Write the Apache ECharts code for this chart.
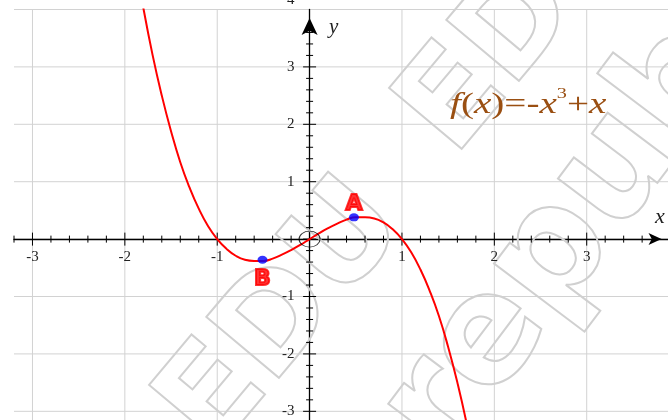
<!DOCTYPE html>
<html>
<head>
<meta charset="utf-8">
<script src="https://cdn.jsdelivr.net/npm/echarts@6/dist/echarts.min.js"></script>
<style>
html, body { margin: 0; padding: 0; background: #fff; }
#main { width: 668px; height: 420px; }
</style>
</head>
<body>
<div id="main"></div>
<script>
// curve points
var curveX = [-1.9, -1.8, -1.7, -1.6, -1.5, -1.4, -1.3, -1.2, -1.1, -1.0,
  -0.9, -0.8, -0.7, -0.6, -0.5, -0.4, -0.3, -0.2, -0.1, 0,
  0.1, 0.2, 0.3, 0.4, 0.5, 0.6, 0.7, 0.8, 0.9, 1.0,
  1.1, 1.2, 1.3, 1.4, 1.5, 1.6, 1.7, 1.8];
var curveY = [4.96, 4.03, 3.21, 2.50, 1.88, 1.34, 0.90, 0.53, 0.23, 0,
  -0.17, -0.29, -0.36, -0.38, -0.38, -0.34, -0.27, -0.19, -0.10, 0,
  0.10, 0.19, 0.27, 0.34, 0.38, 0.38, 0.36, 0.29, 0.17, 0,
  -0.23, -0.53, -0.90, -1.34, -1.88, -2.50, -3.21, -4.03];

// marked points
var pointNames = ['A', 'B'];
var pointX = [0.48, -0.51];
var pointY = [0.38, -0.36];

// tick labels
var xLabelVals = [-3, -2, -1, 1, 2, 3];
var xLabelText = ['-3', '-2', '-1', '1', '2', '3'];
var yLabelVals = [-3, -2, -1, 1, 2, 3, 4];
var yLabelText = ['-3', '-2', '-1', '1', '2', '3', '4'];

// board
var gridX = [-3, -2, -1, 0, 1, 2, 3];
var gridY = [-3, -2, -1, 0, 1, 2, 3, 4];
var xRange = [-3.2, 3.88];
var yRange = [-3.2, 4];
var tickStep = 0.2;
var tickLast = 3.6;

var serif = '"Liberation Serif", "DejaVu Serif", serif';
var brown = '#9a4f12';

function isInt(v) {
  return Math.abs(v - Math.round(v)) < 1e-6;
}

var curveData = curveX.map(function (x, i) { return [x, curveY[i]]; });

var pointData = pointNames.map(function (n, i) {
  return {
    name: n,
    value: [pointX[i], pointY[i]],
    label: { position: i === 0 ? 'top' : 'bottom', distance: i === 0 ? -2 : 5 }
  };
});

var gridData = [];
gridX.forEach(function (v) { gridData.push([v, 0]); });
gridY.forEach(function (v) { gridData.push([v, 1]); });

var tickData = [];
for (var k = 0; ; k++) {
  var v = Math.round((xRange[0] + k * tickStep) * 10) / 10;
  if (v > tickLast) break;
  tickData.push([v, 0, isInt(v) ? 1 : 0]);
  tickData.push([v, 1, isInt(v) ? 1 : 0]);
}

var labelData = [], labelText = [];
xLabelVals.forEach(function (v, i) { labelData.push([v, 0]); labelText.push(xLabelText[i]); });
yLabelVals.forEach(function (v, i) { labelData.push([v, 1]); labelText.push(yLabelText[i]); });

function renderGrid(params, api) {
  var v = api.value(0);
  var a, b;
  if (api.value(1) === 0) {
    a = api.coord([v, yRange[0]]);
    b = api.coord([v, yRange[1]]);
  } else {
    a = api.coord([xRange[0], v]);
    b = api.coord([xRange[1], v]);
  }
  return {
    type: 'line',
    shape: { x1: a[0], y1: a[1], x2: b[0], y2: b[1] },
    style: { stroke: '#d2d2d2', lineWidth: 1 }
  };
}

function renderTick(params, api) {
  var v = api.value(0);
  var len = api.value(2) ? 6.5 : 3.5;
  var shape;
  if (api.value(1) === 0) {
    var p = api.coord([v, 0]);
    shape = { x1: p[0], y1: p[1] - len, x2: p[0], y2: p[1] + len };
  } else {
    var q = api.coord([0, v]);
    shape = { x1: q[0] - len, y1: q[1], x2: q[0] + len, y2: q[1] };
  }
  return { type: 'line', shape: shape, style: { stroke: '#000', lineWidth: 1 } };
}

function renderLabel(params, api) {
  var v = api.value(0);
  var txt = labelText[params.dataIndex];
  if (api.value(1) === 0) {
    var p = api.coord([v, 0]);
    return {
      type: 'text', x: p[0], y: p[1] + 18,
      style: { text: txt, font: '15px ' + serif, fill: '#222', align: 'center', verticalAlign: 'middle' }
    };
  }
  var q = api.coord([0, v]);
  return {
    type: 'text', x: q[0] - 15, y: q[1] + (v === 4 ? -9 : 0),
    style: { text: txt, font: '15px ' + serif, fill: '#222', align: 'right', verticalAlign: 'middle' }
  };
}

function watermark(text, x, y, size, rot) {
  return {
    type: 'text',
    x: x,
    y: y,
    rotation: rot * Math.PI / 180,
    z: 1,
    silent: true,
    style: {
      text: text,
      font: 'bold ' + size + 'px "DejaVu Sans", sans-serif',
      fill: 'rgba(0,0,0,0)',
      stroke: '#d0d0d0',
      lineWidth: 2,
      align: 'left',
      verticalAlign: 'bottom'
    }
  };
}

var chart = echarts.init(document.getElementById('main'));

var option = {
  animation: false,
  backgroundColor: '#fff',
  grid: { left: 14, right: 0, top: 9.5, bottom: -2.8, outerBoundsMode: 'none', containLabel: false },
  xAxis: {
    type: 'value',
    min: xRange[0],
    max: xRange[1],
    interval: tickStep,
    axisLine: {
      onZero: true,
      symbol: ['none', 'arrow'],
      symbolSize: [9, 13],
      symbolOffset: [0, -6.5],
      lineStyle: { color: '#000', width: 1.3 }
    },
    axisTick: { show: false },
    splitLine: { show: false },
    axisLabel: { show: false }
  },
  yAxis: {
    type: 'value',
    min: yRange[0],
    max: yRange[1],
    interval: tickStep,
    axisLine: {
      onZero: true,
      symbol: ['none', 'arrow'],
      symbolSize: [12, 17],
      symbolOffset: [0, -8.5],
      lineStyle: { color: '#000', width: 1.3 }
    },
    axisTick: { show: false },
    splitLine: { show: false },
    axisLabel: { show: false }
  },
  graphic: [
    watermark('EDU', 238, 475, 130, 50),
    watermark('EDU', 478, 178, 130, 50),
    watermark('republic', 475, 485, 150, 53),
    {
      type: 'text', left: 655, top: 206, z: 10,
      style: { text: 'x', font: 'italic 22px ' + serif, fill: '#222' }
    },
    {
      type: 'text', left: 329, top: 17, z: 10,
      style: { text: 'y', font: 'italic 21px ' + serif, fill: '#222' }
    },
    {
      type: 'text', x: 450, y: 87, scaleX: 1.35, z: 10,
      style: {
        text: '{i|f}{n|(}{i|x}{n|)=-}{i|x}{s|3}{n|+}{i|x}',
        rich: {
          i: { fontFamily: serif, fontStyle: 'italic', fontSize: 29, fill: brown, lineHeight: 36 },
          n: { fontFamily: serif, fontSize: 29, fill: brown, lineHeight: 36 },
          s: { fontFamily: serif, fontSize: 15, fill: brown, lineHeight: 15, verticalAlign: 'top' }
        }
      }
    }
  ],
  series: [
    {
      type: 'custom',
      name: 'grid',
      renderItem: renderGrid,
      data: gridData,
      silent: true,
      z: 0
    },
    {
      type: 'custom',
      name: 'ticks',
      renderItem: renderTick,
      data: tickData,
      silent: true,
      z: 3
    },
    {
      type: 'custom',
      name: 'tickLabels',
      renderItem: renderLabel,
      data: labelData,
      silent: true,
      z: 3
    },
    {
      type: 'line',
      name: 'f(x)',
      data: curveData,
      showSymbol: false,
      smooth: true,
      clip: true,
      lineStyle: { color: '#ff0000', width: 2 },
      z: 5
    },
    {
      type: 'scatter',
      name: 'origin',
      data: [[0, 0]],
      symbol: 'circle',
      symbolSize: [21, 16],
      itemStyle: { color: 'rgba(0,0,0,0)', borderColor: '#000', borderWidth: 1 },
      z: 6
    },
    {
      type: 'scatter',
      name: 'points',
      data: pointData,
      symbol: 'circle',
      symbolSize: [10, 8],
      itemStyle: { color: '#0000ff' },
      label: {
        show: true,
        formatter: '{b}',
        color: '#ff0000',
        fontFamily: '"DejaVu Sans", sans-serif',
        fontWeight: 'bold',
        fontSize: 22,
        textBorderColor: '#ff0000',
        textBorderWidth: 2
      },
      z: 7
    }
  ]
};

chart.setOption(option);
</script>
</body>
</html>
